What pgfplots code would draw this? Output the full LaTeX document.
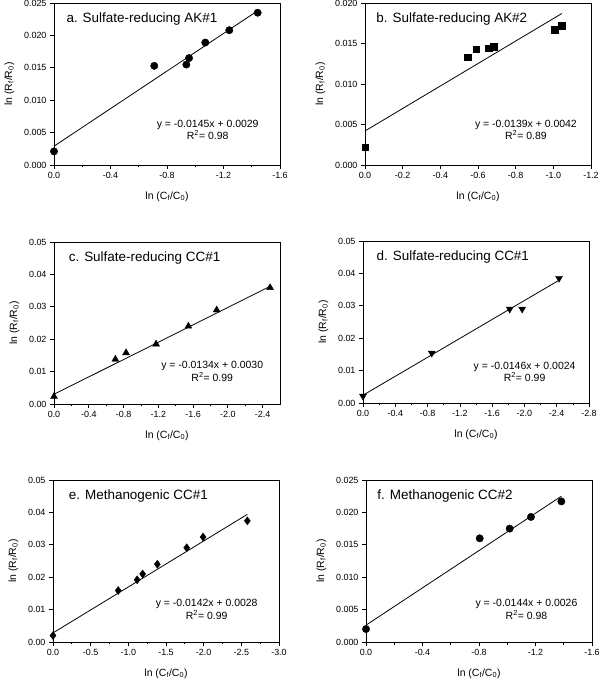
\documentclass[border=0pt]{standalone}
\usepackage{pgfplots}
\pgfplotsset{compat=1.18}
\usepackage{fontspec}
\setmainfont{Liberation Sans}

\pgfplotsset{every axis/.append style={width=226bp, height=162bp, scale only axis, clip=false,
  x dir=reverse, axis line style={line width=0.7bp}, tick style={line width=0.7bp, black},
  tick align=outside, xtick pos=left, ytick pos=left,
  major tick length=4bp, minor tick length=2.5bp, minor x tick num=1,
  ticklabel style={font=\fontsize{9}{10}\selectfont, /pgf/number format/assume math mode=true,
    /pgf/number format/fixed, /pgf/number format/fixed zerofill},
  xticklabel style={/pgf/number format/precision=1},
  label style={font=\fontsize{10.5}{12}\selectfont},
  xlabel shift=6bp, ylabel shift=3bp,
  xlabel={ln (C\textsubscript{f}/C\textsubscript{0})},
  ylabel={ln (R\textsubscript{f}/R\textsubscript{0})},
  scaled ticks=false}}
\tikzset{fit/.style={black, line width=0.8bp, no marks},
  pts/.style={only marks, black, mark options={fill=black}},
  eq/.style={align=center, font=\fontsize{10.5}{12.5}\selectfont},
  ttl/.style={anchor=west, font=\fontsize{13.5}{15}\selectfont}}

\begin{document}
\begin{tikzpicture}
% a
\begin{axis}[at={(54bp,518bp)}, xmin=-1.6, xmax=0, ymin=0, ymax=0.025,
  xtick={0,-0.4,-0.8,-1.2,-1.6}, ytick={0,0.005,0.01,0.015,0.02,0.025},
  yticklabel style={/pgf/number format/precision=3}]
\addplot[fit] coordinates {(0,0.0029)(-1.442,0.0238)};
\addplot[pts, mark=*, mark size=3.7bp] coordinates {(0,0.0021)(-0.71,0.0153)(-0.937,0.0155)(-0.956,0.0165)(-1.071,0.0189)(-1.241,0.0208)(-1.442,0.0235)};
\node[ttl] at (axis description cs:0.04,0.9) {a. Sulfate-reducing AK\#1};
\node[eq] at (axis description cs:0.68,0.216) {y = -0.0145x + 0.0029\\R\textsuperscript{2}= 0.98};
\end{axis}
% b
\begin{axis}[at={(365bp,518bp)}, xmin=-1.2, xmax=0, ymin=0, ymax=0.02,
  xtick={0,-0.2,-0.4,-0.6,-0.8,-1.0,-1.2}, minor x tick num=0, ytick={0,0.005,0.01,0.015,0.02},
  yticklabel style={/pgf/number format/precision=3}]
\addplot[fit] coordinates {(0,0.0042)(-1.045,0.0187)};
\addplot[pts, mark=square*, mark size=3.3bp] coordinates {(0,0.0022)(-0.544,0.0133)(-0.59,0.0143)(-0.657,0.0144)(-0.684,0.0146)(-1.008,0.0167)(-1.045,0.0172)};
\node[ttl] at (axis description cs:0.035,0.9) {b. Sulfate-reducing AK\#2};
\node[eq] at (axis description cs:0.712,0.216) {y = -0.0139x + 0.0042\\R\textsuperscript{2}= 0.89};
\end{axis}
% c
\begin{axis}[at={(54bp,279bp)}, xmin=-2.6, xmax=0, ymin=0, ymax=0.05,
  xtick={0,-0.4,-0.8,-1.2,-1.6,-2.0,-2.4}, ytick={0,0.01,0.02,0.03,0.04,0.05},
  yticklabel style={/pgf/number format/precision=2}]
\addplot[fit] coordinates {(0,0.0030)(-2.486,0.0363)};
\addplot[pts, mark=triangle*, mark size=4bp] coordinates {(0,0.0023)(-0.706,0.0138)(-0.829,0.0158)(-1.174,0.0185)(-1.546,0.0240)(-1.872,0.0290)(-2.486,0.0359)};
\node[ttl] at (axis description cs:0.05,0.9) {c. Sulfate-reducing CC\#1};
\node[eq] at (axis description cs:0.70,0.20) {y = -0.0134x + 0.0030\\R\textsuperscript{2}= 0.99};
\end{axis}
% d
\begin{axis}[at={(363bp,280bp)}, xmin=-2.8, xmax=0, ymin=0, ymax=0.05,
  xtick={0,-0.4,-0.8,-1.2,-1.6,-2.0,-2.4,-2.8}, ytick={0,0.01,0.02,0.03,0.04,0.05},
  yticklabel style={/pgf/number format/precision=2}]
\addplot[fit] coordinates {(0,0.0024)(-2.429,0.0379)};
\addplot[pts, mark=triangle*, mark size=4bp, mark options={rotate=180, fill=black}] coordinates {(0,0.0021)(-0.852,0.0154)(-1.818,0.0290)(-1.972,0.0290)(-2.429,0.0385)};
\node[ttl] at (axis description cs:0.045,0.9) {d. Sulfate-reducing CC\#1};
\node[eq] at (axis description cs:0.715,0.193) {y = -0.0146x + 0.0024\\R\textsuperscript{2}= 0.99};
\end{axis}
% e
\begin{axis}[at={(53bp,41bp)}, xmin=-3, xmax=0, ymin=0, ymax=0.05,
  xtick={0,-0.5,-1.0,-1.5,-2.0,-2.5,-3.0}, ytick={0,0.01,0.02,0.03,0.04,0.05},
  yticklabel style={/pgf/number format/precision=2}]
\addplot[fit] coordinates {(0,0.0028)(-2.58,0.0394)};
\addplot[pts, mark=diamond*, mark size=4bp] coordinates {(0,0.0020)(-0.866,0.0159)(-1.117,0.0192)(-1.19,0.0210)(-1.385,0.0240)(-1.775,0.0291)(-1.992,0.0324)(-2.58,0.0374)};
\node[ttl] at (axis description cs:0.055,0.9) {e. Methanogenic CC\#1};
\node[eq] at (axis description cs:0.68,0.20) {y = -0.0142x + 0.0028\\R\textsuperscript{2}= 0.99};
\end{axis}
% f
\begin{axis}[at={(366bp,41bp)}, xmin=-1.6, xmax=0, ymin=0, ymax=0.025,
  xtick={0,-0.4,-0.8,-1.2,-1.6}, ytick={0,0.005,0.01,0.015,0.02,0.025},
  yticklabel style={/pgf/number format/precision=3}]
\addplot[fit] coordinates {(0,0.0026)(-1.383,0.0225)};
\addplot[pts, mark=*, mark size=3.7bp] coordinates {(0,0.0020)(-0.805,0.0160)(-1.017,0.0175)(-1.168,0.0193)(-1.383,0.0217)};
\node[ttl] at (axis description cs:0.035,0.9) {f. Methanogenic CC\#2};
\node[eq] at (axis description cs:0.71,0.20) {y = -0.0144x + 0.0026\\R\textsuperscript{2}= 0.98};
\end{axis}
\pgfresetboundingbox
\path[use as bounding box] (0,0) rectangle (600bp,683bp);
\end{tikzpicture}
\end{document}
